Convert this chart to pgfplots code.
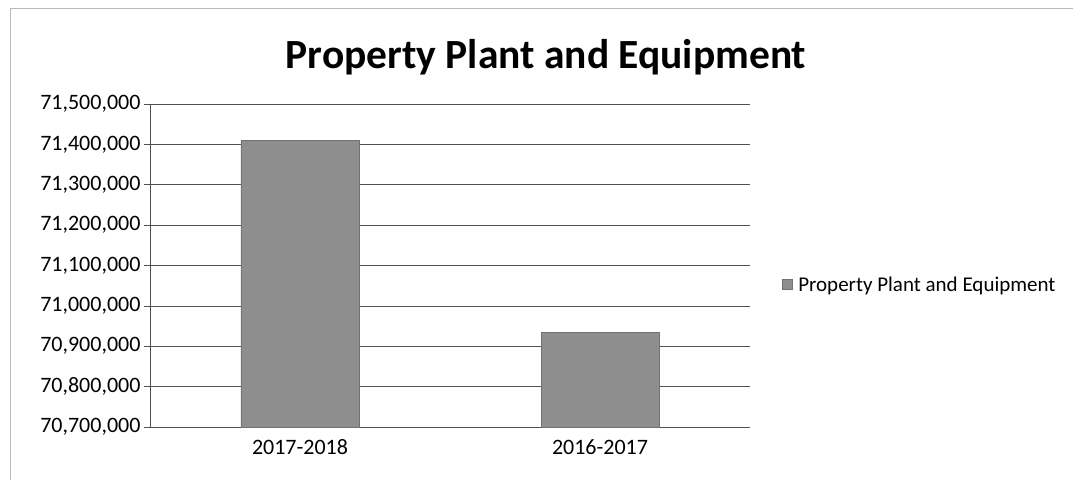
\documentclass[border=0pt]{standalone}
\usepackage{pgfplots}
\pgfplotsset{compat=1.18}
\usepackage{fontspec}
\setmainfont{Carlito}
\definecolor{barg}{HTML}{8E8E8E}
\definecolor{gridg}{HTML}{505050}
\begin{document}
\begin{tikzpicture}
\useasboundingbox (-150pt,-53pt) rectangle (923pt,427pt);
\draw[gray!55, line width=0.8pt] (-140pt,-53pt) -- (-140pt,419pt) -- (923pt,419pt);
\begin{axis}[
  scale only axis,
  width=600pt, height=323pt,
  ybar, bar width=118pt,
  xmin=-0.5, xmax=1.5,
  ymin=70700000, ymax=71500000,
  xtick={0,1}, xticklabels={2017-2018,2016-2017},
  extra x ticks={0.5,1.5}, extra x tick labels={},
  extra x tick style={major tick length=6pt, tick style={gridg, line width=0.6pt}, tick align=outside, grid=none},
  x tick style={draw=none},
  ytick={70700000,70800000,...,71500000},
  scaled y ticks=false,
  y tick label style={/pgf/number format/fixed, /pgf/number format/1000 sep={,}, /pgf/number format/precision=0, /pgf/number format/assume math mode=true},
  ymajorgrids, grid style={gridg, line width=0.6pt},
  y tick style={gridg, line width=0.6pt}, tick align=outside, major tick length=6pt,
  axis line style={gridg, line width=0.6pt},
  axis x line*=bottom, axis y line*=left,
  ticklabel style={font=\fontsize{22}{26}\selectfont, text=black},
  yticklabel style={xshift=0pt},
  xticklabel style={yshift=-3pt},
  legend style={at={(1.048,0.44)}, anchor=west, draw=none, fill=none, font=\fontsize{21}{25}\selectfont, legend cell align=left, /tikz/every even column/.style={column sep=0pt}},
  legend image code/.code={\fill[#1] (0pt,-4.5pt) rectangle (10pt,5.5pt);},
  legend style={nodes={inner xsep=6pt}},
]
\addplot[fill=barg, draw=barg!80!black, line width=0.3pt] coordinates {(0,71410000) (1,70935000)};
\addlegendentry{Property Plant and Equipment}
\end{axis}
\node[font=\fontsize{41.5}{48}\selectfont\bfseries] at (396pt,370pt) {Property Plant and Equipment};
\end{tikzpicture}
\end{document}
